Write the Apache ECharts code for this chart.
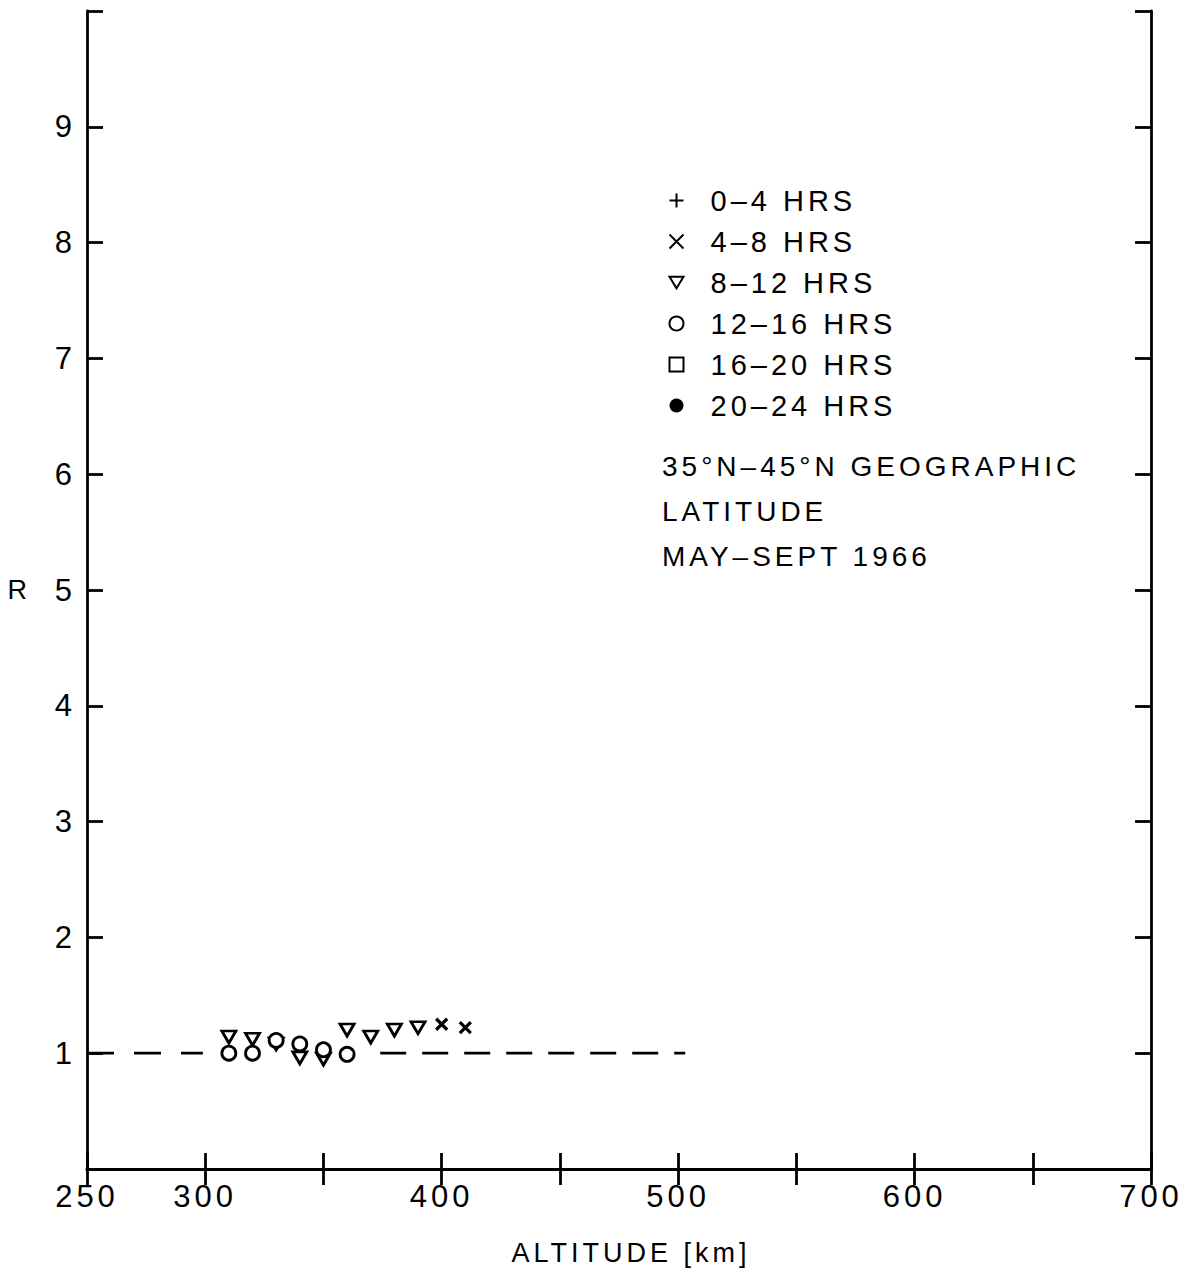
<!DOCTYPE html>
<html><head><meta charset="utf-8">
<script src="https://cdn.jsdelivr.net/npm/echarts@6/dist/echarts.min.js"></script>
<style>html,body{margin:0;padding:0;background:#fff}#c{width:1187px;height:1274px}
#c svg text{letter-spacing:4px}</style>
</head><body><div id="c"></div>
<script>
// ---- data ----
const xTickLabels = [250, 300, 400, 500, 600, 700];
const yTickLabels = [1, 2, 3, 4, 5, 6, 7, 8, 9];
const seriesNames = ['0\u20134 HRS', '4\u20138 HRS', '8\u201312 HRS', '12\u201316 HRS', '16\u201320 HRS', '20\u201324 HRS'];
const alt_0_4 = [];      const r_0_4 = [];
const alt_4_8 = [400, 410];
const r_4_8 = [1.25, 1.22];
const alt_8_12 = [310, 320, 330, 340, 350, 360, 370, 380, 390];
const r_8_12 = [1.14, 1.12, 1.08, 0.96, 0.95, 1.20, 1.14, 1.20, 1.22];
const alt_12_16 = [310, 320, 330, 340, 350, 360];
const r_12_16 = [1.00, 1.00, 1.11, 1.08, 1.03, 0.99];
const alt_16_20 = [];    const r_16_20 = [];
const alt_20_24 = [];    const r_20_24 = [];
const refAltA = [250, 299]; const refRA = [1, 1];
const refAltB = [374, 503]; const refRB = [1, 1];
const noteLines = ['35\u00b0N\u201345\u00b0N GEOGRAPHIC', 'LATITUDE', 'MAY\u2013SEPT 1966'];

const pairs = (xs, ys) => xs.map((x, i) => [x, ys[i]]);
const FONT = 'Liberation Sans';
const crossPath = 'path://M0,0L10,10M10,0L0,10';
const plusPath = 'path://M5,0L5,10M0,5L10,5';
const triDownPath = 'path://M0,0L12,0L6,10Z';
const hollow = { color: '#fff', borderColor: '#000', borderWidth: 2.8, opacity: 1 };

function sc(name, xs, ys, symbol, size, style) {
  return { type: 'scatter', name, data: pairs(xs, ys), symbol, symbolSize: size,
    itemStyle: style, z: 5 };
}

const chart = echarts.init(document.getElementById('c'), null, { renderer: 'svg' });
const axisCommon = {
  axisLine: { show: true, lineStyle: { color: '#000', width: 2.8 } },
  axisTick: { show: true, inside: true, length: 16, lineStyle: { color: '#000', width: 2.8 } },
  splitLine: { show: false }
};
chart.setOption({
  animation: false,
  backgroundColor: '#fff',
  grid: { left: 87, right: 36, top: 11, bottom: 105 },
  xAxis: [
    Object.assign({ type: 'value', min: 250, max: 700, interval: 50, position: 'bottom',
      name: 'ALTITUDE [km]', nameLocation: 'middle', nameGap: 70,
      nameTextStyle: { fontFamily: FONT, fontSize: 27, color: '#000', padding: [0, 0, 0, 24] },
      axisLabel: { margin: 12, fontFamily: FONT, fontSize: 31, color: '#000',
        formatter: v => xTickLabels.includes(v) ? String(v) : '' } }, axisCommon),
    Object.assign({ type: 'value', min: 250, max: 700, interval: 50, position: 'top',
      axisLabel: { show: false } }, axisCommon)
  ],
  yAxis: [
    Object.assign({ type: 'value', min: 0, max: 10, interval: 1, position: 'left',
      name: 'R', nameLocation: 'middle', nameGap: 56, nameRotate: 0,
      nameTextStyle: { fontFamily: FONT, fontSize: 27, color: '#000' },
      axisLabel: { margin: 11, fontFamily: FONT, fontSize: 31, color: '#000',
        formatter: v => yTickLabels.includes(v) ? String(v) : '' } }, axisCommon),
    Object.assign({ type: 'value', min: 0, max: 10, interval: 1, position: 'right',
      axisLabel: { show: false } }, axisCommon)
  ],
  legend: {
    orient: 'vertical', left: 662, top: 181, itemGap: 12, itemWidth: 14, itemHeight: 14,
    selectedMode: false,
    textStyle: { fontFamily: FONT, fontSize: 29, color: '#000', padding: [0, 0, 0, 22] },
    data: seriesNames
  },
  graphic: noteLines.map((t, i) => ({
    type: 'text', left: 662, top: 452 + i * 45,
    style: { text: t, font: '28px "' + FONT + '"', fill: '#000' }
  })),
  series: [
    { type: 'line', data: pairs(refAltA, refRA), symbol: 'none', silent: true,
      lineStyle: { color: '#000', width: 2.8, type: [27, 20] }, z: 2 },
    { type: 'line', data: pairs(refAltB, refRB), symbol: 'none', silent: true,
      lineStyle: { color: '#000', width: 2.8, type: [26, 16] }, z: 2 },
    sc(seriesNames[0], alt_0_4, r_0_4, plusPath, 10, { color: 'none', borderColor: '#000', borderWidth: 3, opacity: 1 }),
    sc(seriesNames[1], alt_4_8, r_4_8, crossPath, 11, { color: 'none', borderColor: '#000', borderWidth: 3.2, opacity: 1 }),
    sc(seriesNames[2], alt_8_12, r_8_12, triDownPath, [14, 12], hollow),
    sc(seriesNames[3], alt_12_16, r_12_16, 'circle', 14, hollow),
    sc(seriesNames[4], alt_16_20, r_16_20, 'rect', 10, hollow),
    sc(seriesNames[5], alt_20_24, r_20_24, 'circle', 16, { color: '#000', opacity: 1 })
  ]
});
</script></body></html>
